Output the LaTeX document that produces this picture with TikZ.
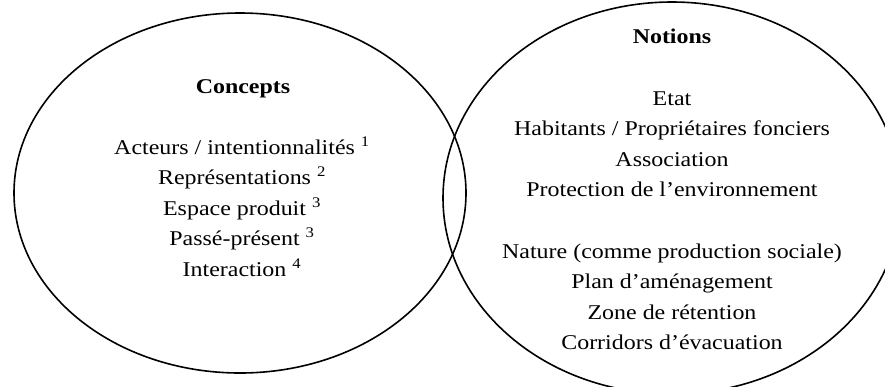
\documentclass[tikz,border=0pt]{standalone}
\usepackage{fontspec}
\setmainfont{Liberation Serif}[FakeStretch=1.14]
\begin{document}
\begin{tikzpicture}[x=1pt,y=-1pt,
  txt/.style={anchor=base,inner sep=0pt,font=\fontsize{21}{25}\selectfont},
  head/.style={txt,font=\fontsize{21}{25}\selectfont\bfseries},
  venn/.style={draw=black,line width=1.6pt}]
\useasboundingbox (0,0) rectangle (885,386);
\clip (0,0) rectangle (885,386);
\fill[white] (0,0) rectangle (885,386);
% ellipses
\draw[venn] (240,193) ellipse [x radius=226pt, y radius=180pt];
\draw[venn] (672,198) ellipse [x radius=229pt, y radius=196pt];
% left
\node[head] (concepts) at (243,93) {Concepts};
\node[txt] (c1) at (242,154) {Acteurs / intentionnalités \textsuperscript{1}};
\node[txt] (c2) at (242,184.5) {Représentations \textsuperscript{2}};
\node[txt] (c3) at (242,215) {Espace produit \textsuperscript{3}};
\node[txt] (c4) at (242,245.5) {Passé-présent \textsuperscript{3}};
\node[txt] (c5) at (242,276) {Interaction \textsuperscript{4}};
% right
\node[head] (notions) at (672,43) {Notions};
\node[txt] (n1) at (672,105) {Etat};
\node[txt] (n2) at (672,135.5) {Habitants / Propriétaires fonciers};
\node[txt] (n3) at (672,166) {Association};
\node[txt] (n4) at (672,196.5) {Protection de l’environnement};
\node[txt] (n5) at (672,258) {Nature (comme production sociale)};
\node[txt] (n6) at (672,288.5) {Plan d’aménagement};
\node[txt] (n7) at (672,319) {Zone de rétention};
\node[txt] (n8) at (672,349.5) {Corridors d’évacuation};
\end{tikzpicture}
\end{document}
